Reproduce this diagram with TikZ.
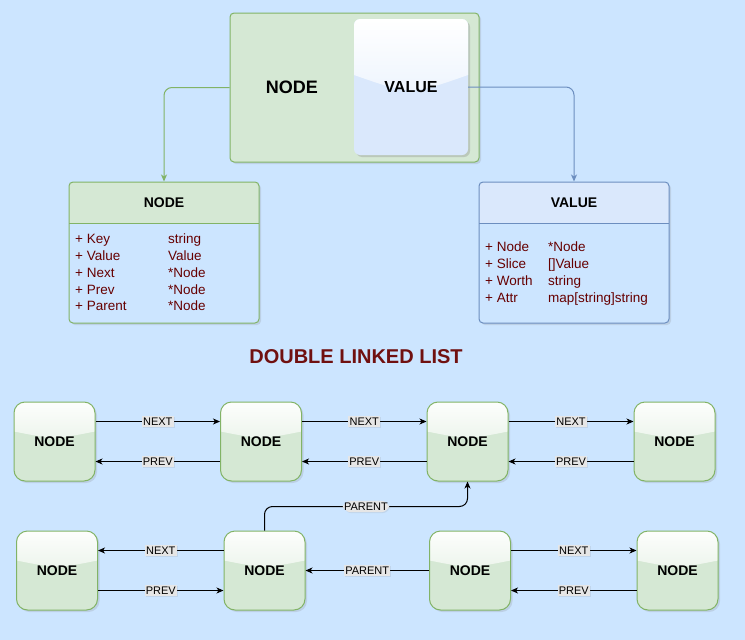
\documentclass[tikz,border=0pt]{standalone}
\usepackage{fontspec}
\setmainfont{Liberation Sans}
\usetikzlibrary{arrows.meta,shadows}

\definecolor{bgblue}{HTML}{CCE5FF}
\definecolor{nodegreen}{HTML}{D5E8D4}
\definecolor{nodestroke}{HTML}{82B366}
\definecolor{valblue}{HTML}{DAE8FC}
\definecolor{valstroke}{HTML}{6C8EBF}
\definecolor{fieldred}{HTML}{660000}
\definecolor{titlered}{HTML}{701010}
\definecolor{lblgray}{HTML}{E6E6E6}

\pgfdeclareverticalshading{greengloss}{100bp}{color(0bp)=(nodegreen!88!white); color(25bp)=(nodegreen!88!white);
  color(75bp)=(white!95!nodegreen); color(100bp)=(white!95!nodegreen)}
\pgfdeclareverticalshading{bluegloss}{100bp}{color(0bp)=(valblue!85!white); color(25bp)=(valblue!85!white);
  color(75bp)=(white); color(100bp)=(white)}

\tikzset{
  softshadow/.style={drop shadow={shadow xshift=2pt, shadow yshift=-2pt, opacity=0.2}},
  listnode/.style={draw=nodestroke, line width=1pt, fill=nodegreen, rounded corners=11pt,
    minimum width=81pt, minimum height=79pt, softshadow,
    font=\fontsize{14}{16}\selectfont\bfseries,
    path picture={\shade[shading=greengloss, sharp corners]
      (path picture bounding box.north west) -- ([yshift=10pt]path picture bounding box.west)
      .. controls ([yshift=2pt]path picture bounding box.center) .. ([yshift=10pt]path picture bounding box.east)
      -- (path picture bounding box.north east) -- cycle;}},
  classbox/.style 2 args={draw=#1, line width=1pt, fill=bgblue, rounded corners=4pt,
    minimum width=190pt, minimum height=141pt, softshadow,
    path picture={\fill[#2, sharp corners] (path picture bounding box.north west) rectangle ([yshift=-41pt]path picture bounding box.north east);
      \draw[#1, line width=1pt] ([yshift=-41pt]path picture bounding box.north west) -- ([yshift=-41pt]path picture bounding box.north east);}},
  headtxt/.style={font=\fontsize{14}{16}\selectfont\bfseries},
  field/.style={anchor=west, inner sep=0pt, text height=9.5pt, text depth=0pt,
    text=fieldred, font=\fontsize{13.5}{15}\selectfont},
  lbl/.style={fill=lblgray, inner sep=1.2pt, text height=8pt, text depth=1pt,
    font=\fontsize{11}{12}\selectfont, drop shadow={shadow xshift=1pt, shadow yshift=-1pt, opacity=0.15}},
  link/.style={-{Stealth[length=7pt, width=6pt, inset=2pt]}, line width=1pt},
}

\begin{document}
\begin{tikzpicture}[x=1pt, y=-1pt]

  % Hintergrund
  \fill[bgblue] (0,0) rectangle (745,640);
  \useasboundingbox (0,0) rectangle (745,640);

  % Oberer Kasten
  \node[draw=nodestroke, line width=1pt, fill=nodegreen, rounded corners=4pt,
        minimum width=249pt, minimum height=149pt, softshadow] (top) at (354.5,87.5) {};
  \node[font=\fontsize{18}{20}\selectfont\bfseries] (toptxt) at (292,87.5) {NODE};
  \node[fill=valblue, rounded corners=6pt, minimum width=114pt, minimum height=136pt,
        drop shadow={shadow xshift=2pt, shadow yshift=-2pt, opacity=0.3},
        font=\fontsize{16}{18}\selectfont\bfseries,
        path picture={\shade[shading=bluegloss, sharp corners]
          (path picture bounding box.north west) -- ([yshift=12pt]path picture bounding box.west)
          .. controls ([yshift=-8pt]path picture bounding box.center) .. ([yshift=12pt]path picture bounding box.east)
          -- (path picture bounding box.north east) -- cycle;}]
        (topval) at (411,87) {VALUE};

  % Klassen
  \node[classbox={nodestroke}{nodegreen}] (nodeclass) at (164,252.5) {};
  \node[classbox={valstroke}{valblue}] (valclass) at (574,252.5) {};
  \node[headtxt] (nodetitle) at (164,202.5) {NODE};
  \node[headtxt] (valtitle) at (574,202.5) {VALUE};

  \foreach \fname/\ftype [count=\i from 0] in {Key/string, Value/Value, Next/*Node, Prev/*Node, Parent/*Node} {
      \node[field] (nodef\i) at (75,239+16.75*\i) {+ \fname};
      \node[field] (nodet\i) at (168,239+16.75*\i) {\ftype};
    }
  \foreach \fname/\ftype [count=\i from 0] in {Node/*Node, Slice/{[]Value}, Worth/string, Attr/{map[string]string}} {
      \node[field] (valf\i) at (485,247+16.8*\i) {+ \fname};
      \node[field] (valt\i) at (548,247+16.8*\i) {\ftype};
    }

  \draw[link, draw=nodestroke, rounded corners=8pt] (top.west) -| (nodeclass.north);
  \draw[link, draw=valstroke, rounded corners=8pt] (topval.east) -| (valclass.north);

  % Titel
  \node[text=titlered, font=\fontsize{20}{22}\selectfont\bfseries] (title) at (356,357) {DOUBLE LINKED LIST};

  % Liste
  \node[listnode] (n1) at (54.5,441.5) {NODE};
  \node[listnode] (n2) at (261,441.5) {NODE};
  \node[listnode] (n3) at (467.5,441.5) {NODE};
  \node[listnode] (n4) at (674.5,441.5) {NODE};
  \node[listnode] (n5) at (57,570.5) {NODE};
  \node[listnode] (n6) at (264.5,570.5) {NODE};
  \node[listnode] (n7) at (470,570.5) {NODE};
  \node[listnode] (n8) at (677.5,570.5) {NODE};

  \foreach \a/\b in {n1/n2, n2/n3, n3/n4, n7/n8} {
      \draw[link] ([yshift=20pt]\a.east) -- node[lbl] {NEXT} ([yshift=20pt]\b.west);
      \draw[link] ([yshift=-20pt]\b.west) -- node[lbl] {PREV} ([yshift=-20pt]\a.east);
    }
  \draw[link] ([yshift=20pt]n6.west) -- node[lbl] (next5) {NEXT} ([yshift=20pt]n5.east);
  \draw[link] ([yshift=-20pt]n5.east) -- node[lbl] (prev5) {PREV} ([yshift=-20pt]n6.west);
  \draw[link] (n7.west) -- node[lbl] (parent2) {PARENT} (n6.east);
  \draw[link, rounded corners=8pt] (n6.north) -- ++(0,-24) -| node[lbl, pos=0.25] (parent1) {PARENT} (n3.south);

\end{tikzpicture}
\end{document}
